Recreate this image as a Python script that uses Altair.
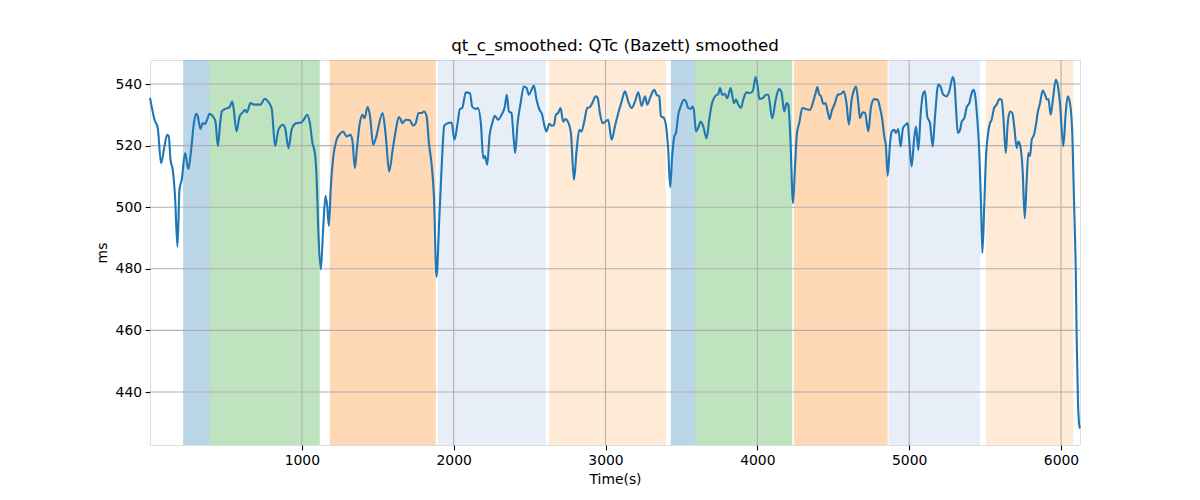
import altair as alt
import pandas as pd

# ---- line data (time in s, QTc in ms) ----
time_s = [0, 30, 51, 73, 95, 113, 124, 135, 150, 165, 181, 194, 209, 231, 253, 271, 289, 304, 315, 332,
          348, 363, 376, 392, 414, 431, 447, 462, 473, 495, 524, 541, 549, 570, 590, 611, 627, 638, 662, 688,
          728, 754, 781, 802, 824, 846, 875, 890, 912, 934, 963, 995, 1013, 1035, 1053, 1070, 1086, 1097, 1110, 1125,
          1140, 1156, 1167, 1178, 1191, 1206, 1229, 1250, 1272, 1294, 1321, 1334, 1349, 1364, 1382, 1400, 1413, 1433, 1448, 1470,
          1487, 1532, 1553, 1575, 1598, 1619, 1639, 1652, 1661, 1685, 1711, 1733, 1750, 1769, 1789, 1804, 1822, 1837, 1854, 1870,
          1887, 1905, 1922, 1938, 1960, 1986, 2005, 2026, 2041, 2056, 2080, 2107, 2122, 2144, 2159, 2179, 2195, 2206, 2221, 2236,
          2254, 2271, 2293, 2315, 2337, 2350, 2364, 2381, 2394, 2405, 2421, 2441, 2462, 2480, 2495, 2513, 2528, 2546, 2563, 2583,
          2596, 2612, 2629, 2644, 2660, 2673, 2688, 2704, 2721, 2736, 2752, 2772, 2792, 2810, 2827, 2842, 2860, 2879, 2897, 2913,
          2935, 2948, 2963, 2981, 3000, 3018, 3040, 3062, 3084, 3106, 3128, 3150, 3172, 3194, 3216, 3238, 3260, 3275, 3297, 3321,
          3337, 3354, 3365, 3385, 3402, 3413, 3426, 3439, 3453, 3464, 3479, 3495, 3517, 3530, 3545, 3560, 3573, 3582, 3596, 3611,
          3627, 3644, 3666, 3683, 3699, 3721, 3743, 3754, 3769, 3786, 3802, 3824, 3846, 3859, 3875, 3892, 3907, 3929, 3947, 3969,
          3989, 4002, 4013, 4035, 4057, 4072, 4098, 4121, 4142, 4159, 4177, 4193, 4204, 4217, 4235, 4248, 4261, 4276, 4296, 4318,
          4347, 4368, 4384, 4395, 4406, 4419, 4434, 4449, 4463, 4476, 4489, 4511, 4529, 4551, 4570, 4587, 4603, 4621, 4637, 4650,
          4665, 4676, 4694, 4709, 4731, 4749, 4770, 4792, 4808, 4823, 4836, 4847, 4858, 4874, 4885, 4902, 4913, 4928, 4944, 4959,
          4977, 4990, 5001, 5016, 5032, 5045, 5060, 5076, 5093, 5104, 5119, 5137, 5155, 5170, 5192, 5206, 5225, 5247, 5264, 5287,
          5298, 5309, 5320, 5335, 5346, 5363, 5379, 5396, 5412, 5423, 5434, 5449, 5462, 5473, 5482, 5495, 5506, 5517, 5532, 5543,
          5559, 5576, 5594, 5609, 5620, 5636, 5649, 5664, 5679, 5693, 5708, 5719, 5730, 5747, 5761, 5774, 5785, 5796, 5807, 5822,
          5835, 5846, 5862, 5879, 5895, 5906, 5917, 5932, 5949, 5965, 5978, 5993, 6015, 6031, 6044, 6059, 6075, 6086, 6097, 6103,
          6112, 6121, 6125]
qtc_ms = [535.5, 528.4, 525.7, 514.3, 519.7, 523.5, 523.0, 515.4, 512.1, 503.4, 487.2, 505.6, 508.9, 517.6, 512.4, 518.6, 527.3, 530.3, 529.5, 525.4,
          527.3, 527.0, 528.4, 530.3, 529.5, 527.8, 519.9, 527.3, 531.1, 531.9, 532.5, 534.3, 532.7, 524.6, 529.5, 530.8, 531.6, 530.8, 533.8, 533.3,
          533.3, 535.2, 534.1, 531.9, 519.9, 525.1, 526.8, 525.7, 519.2, 525.4, 527.3, 527.5, 528.4, 530.0, 527.3, 520.8, 517.6, 510.0, 490.4, 479.8,
          492.6, 503.7, 500.4, 493.9, 506.7, 515.9, 521.9, 523.7, 524.6, 523.0, 523.5, 521.3, 512.7, 519.7, 527.3, 530.0, 528.9, 532.5, 530.0, 520.3,
          522.4, 530.6, 523.0, 511.6, 518.6, 525.1, 529.3, 528.4, 527.3, 528.4, 528.2, 526.5, 527.3, 530.6, 530.6, 531.1, 529.5, 520.8, 514.3, 503.4,
          477.4, 495.9, 514.3, 526.4, 527.3, 527.5, 521.9, 527.3, 531.9, 532.2, 537.3, 537.1, 532.7, 531.9, 532.2, 527.3, 515.9, 516.6, 513.8, 523.0,
          527.3, 529.7, 528.4, 530.0, 532.7, 536.5, 531.1, 530.6, 523.0, 517.6, 527.3, 533.8, 539.2, 538.7, 536.5, 538.1, 539.5, 534.9, 531.9, 530.0,
          526.8, 524.6, 527.1, 526.5, 526.6, 530.0, 530.6, 532.2, 527.8, 528.6, 527.8, 524.1, 508.9, 518.6, 525.1, 524.6, 527.8, 532.2, 532.5, 533.8,
          536.0, 535.5, 530.6, 527.3, 527.8, 528.4, 521.9, 526.2, 530.6, 534.3, 537.6, 534.3, 532.2, 534.3, 537.3, 532.9, 536.0, 533.3, 536.0, 538.1,
          536.5, 536.0, 529.5, 529.0, 525.1, 518.6, 506.5, 516.5, 523.0, 524.1, 530.0, 532.7, 534.9, 534.3, 532.2, 531.9, 532.7, 531.6, 524.6, 525.9,
          527.8, 526.2, 522.4, 528.4, 533.3, 536.0, 536.8, 538.7, 536.5, 536.8, 535.4, 538.7, 533.8, 535.0, 533.3, 532.2, 534.9, 537.3, 537.1, 537.6,
          542.3, 539.2, 535.1, 535.4, 536.5, 536.5, 528.9, 534.9, 538.4, 537.3, 531.1, 533.8, 533.3, 523.0, 501.3, 513.2, 524.1, 527.3, 532.2, 531.9,
          531.6, 534.3, 537.1, 539.0, 536.8, 536.0, 533.6, 533.8, 531.1, 528.6, 531.1, 533.8, 536.5, 536.8, 537.6, 533.8, 526.8, 534.9, 538.1, 539.2,
          533.8, 528.9, 530.8, 530.6, 524.6, 532.7, 535.1, 534.9, 532.2, 528.4, 523.0, 519.7, 510.2, 520.8, 524.6, 525.1, 524.1, 525.4, 519.7, 525.7,
          526.8, 527.3, 521.3, 513.2, 521.9, 526.2, 518.6, 530.6, 537.1, 537.6, 529.5, 527.3, 519.7, 529.5, 539.8, 539.2, 536.5, 536.0, 537.6, 542.3,
          540.4, 531.6, 524.1, 525.1, 527.8, 528.9, 532.5, 533.8, 537.1, 538.1, 536.5, 528.4, 517.6, 501.3, 485.2, 501.3, 516.5, 523.0, 527.3, 528.4,
          532.2, 533.3, 535.1, 534.9, 529.5, 517.6, 527.3, 531.1, 530.6, 525.7, 519.2, 521.3, 520.3, 512.1, 496.4, 508.9, 517.6, 516.6, 521.9, 523.5,
          526.8, 530.6, 533.8, 537.9, 536.5, 535.0, 535.1, 530.0, 536.0, 541.4, 539.8, 533.8, 519.9, 530.6, 536.0, 533.8, 523.0, 501.3, 479.6, 457.9,
          436.3, 428.9, 428.2]

# ---- shaded phases ----
span_start = [218, 394, 1184, 1894, 2627, 3430, 3589, 4241, 4865, 5506]
span_end = [394, 1118, 1883, 2607, 3398, 3589, 4230, 4858, 5466, 6081]
span_kind = ["blue", "green", "orange", "lightblue", "lightorange",
             "blue", "green", "orange", "lightblue", "lightorange"]
kind_names = ["blue", "green", "orange", "lightblue", "lightorange"]
kind_colors = ["#1f77b4", "#2ca02c", "#ff7f0e", "#aec7e8", "#ffbb78"]

x_ticks = [1000, 2000, 3000, 4000, 5000, 6000]
y_ticks = [440, 460, 480, 500, 520, 540]
x_domain = [0, 6125]
y_domain = [422.8, 547.8]

line_df = pd.DataFrame({"t": time_s, "v": qtc_ms})
span_df = pd.DataFrame({"start": span_start, "end": span_end, "kind": span_kind})
xg_df = pd.DataFrame({"x": x_ticks})
yg_df = pd.DataFrame({"y": y_ticks})

FONT = "DejaVu Sans"
xscale = alt.Scale(domain=x_domain, nice=False, zero=False)
yscale = alt.Scale(domain=y_domain, nice=False, zero=False)

x_axis = alt.Axis(values=x_ticks, grid=False, domain=False, tickSize=4.9, tickWidth=1.1,
                  tickColor="black", labelPadding=3.5, labelColor="black", labelFont=FONT,
                  labelFontSize=13.9, title="Time(s)", titleFont=FONT, titleFontSize=13.9,
                  titleFontWeight="normal", titleColor="black", titlePadding=5, format="d")
y_axis = alt.Axis(values=y_ticks, grid=False, domain=False, tickSize=4.9, tickWidth=1.1,
                  tickColor="black", labelPadding=3.5, labelColor="black", labelFont=FONT,
                  labelFontSize=13.9, title="ms", titleFont=FONT, titleFontSize=13.9,
                  titleFontWeight="normal", titleColor="black", titlePadding=6, format="d")

spans = alt.Chart(span_df).mark_rect(opacity=0.3).encode(
    x=alt.X("start:Q", scale=xscale, axis=x_axis),
    x2="end:Q",
    color=alt.Color("kind:N", scale=alt.Scale(domain=kind_names, range=kind_colors), legend=None),
)

xgrid = alt.Chart(xg_df).mark_rule(color="#b0b0b0", strokeWidth=1.1).encode(
    x=alt.X("x:Q", scale=xscale)
)
ygrid = alt.Chart(yg_df).mark_rule(color="#b0b0b0", strokeWidth=1.1).encode(
    y=alt.Y("y:Q", scale=yscale, axis=y_axis)
)

line = alt.Chart(line_df).mark_line(color="#1f77b4", strokeWidth=2.1, interpolate="monotone").encode(
    x=alt.X("t:Q", scale=xscale, axis=x_axis),
    y=alt.Y("v:Q", scale=yscale, axis=y_axis),
)

chart = alt.layer(spans, xgrid, ygrid, line).properties(
    width=930, height=385,
    autosize=alt.AutoSizeParams(type="none"),
    padding={"left": 142, "top": 52, "right": 100, "bottom": 50},
    title=alt.TitleParams("qt_c_smoothed: QTc (Bazett) smoothed", font=FONT, fontSize=16.7,
                          fontWeight="normal", color="black", offset=5),
).configure_view(stroke="black", strokeWidth=1.1).configure(background="white")

chart.save("out.html", embed_options={"renderer": "svg", "actions": False})
